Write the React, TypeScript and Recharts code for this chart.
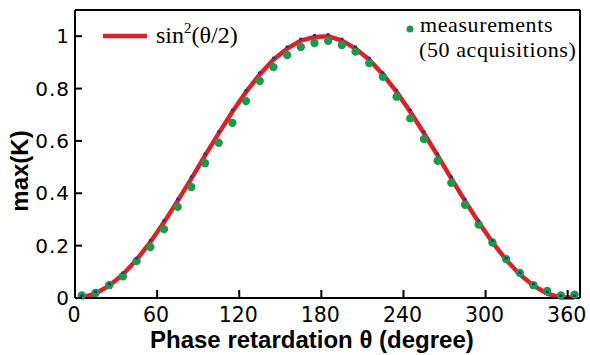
import {
  ComposedChart,
  Legend,
  Line,
  ReferenceLine,
  Scatter,
  XAxis,
  YAxis,
} from "recharts";

const THETA = [
  5, 15, 25, 35, 45, 55, 65, 75, 85, 95, 105, 115, 125, 135, 145, 155, 165, 175, 185,
  195, 205, 215, 225, 235, 245, 255, 265, 275, 285, 295, 305, 315, 325, 335, 345, 355, 365,
];
const THEORY = [
  0.002, 0.017, 0.047, 0.09, 0.146, 0.213, 0.289, 0.371, 0.456, 0.544, 0.629, 0.711, 0.787,
  0.854, 0.91, 0.953, 0.983, 0.997, 1.0, 0.983, 0.953, 0.91, 0.854, 0.787, 0.711, 0.629,
  0.544, 0.456, 0.371, 0.289, 0.213, 0.146, 0.09, 0.047, 0.017, 0.002, 0.002,
];
const MEASURED = [
  0.01, 0.019, 0.049, 0.083, 0.141, 0.195, 0.263, 0.348, 0.424, 0.515, 0.593, 0.669, 0.752,
  0.829, 0.882, 0.928, 0.959, 0.974, 0.982, 0.966, 0.941, 0.897, 0.845, 0.769, 0.686, 0.607,
  0.524, 0.44, 0.356, 0.281, 0.212, 0.149, 0.096, 0.049, 0.027, 0.01, 0.013,
];
const X_TICKS = [0, 60, 120, 180, 240, 300, 360];
const Y_TICKS = [0, 0.2, 0.4, 0.6, 0.8, 1];
const X_MAX = 369;
const Y_MAX = 1.1;

const X_TITLE = "Phase retardation θ (degree)";
const Y_TITLE = "max(K)";
const MEAS_LABEL = ["measurements", "(50 acquisitions)"];

const RED = "#d9232a";
const GREEN = "#1b9a4b";
const NAVY = "#2e3192";

const data = THETA.map((t, i) => ({ theta: t, theory: THEORY[i], measured: MEASURED[i] }));

function XTick({ x, y, payload }: any) {
  return (
    <g>
      <line x1={x} x2={x} y1={y} y2={y - 8} stroke="#000" strokeWidth={2} />
      <text x={x - 1} y={y + 23.5} textAnchor="middle" fontFamily="DejaVu Sans" fontSize={20.5} fill="#000">
        {payload.value}
      </text>
    </g>
  );
}

function YTick({ x, y, payload }: any) {
  return (
    <g>
      <line x1={x} x2={x + 7} y1={y} y2={y} stroke="#000" strokeWidth={2} />
      <text x={x - 5} y={y + 7} textAnchor="end" fontFamily="DejaVu Sans" fontSize={20} letterSpacing={1} fill="#000">
        {payload.value}
      </text>
    </g>
  );
}

function LegendBox() {
  return (
    <svg width={590} height={70} style={{ display: "block" }}>
      <line x1={103} x2={147} y1={36} y2={36} stroke={RED} strokeWidth={4.5} />
      <text x={156} y={43} fontFamily="Liberation Serif" fontSize={24} fill="#000">
        sin<tspan fontSize={15} dy={-10}>2</tspan>
        <tspan dy={10}>(θ/2)</tspan>
      </text>
      <circle cx={410} cy={29} r={3.5} fill={GREEN} />
      <text x={420} y={32} fontFamily="Liberation Serif" fontSize={22} letterSpacing={0.6} fill="#000">
        {MEAS_LABEL[0]}
      </text>
      <text x={419} y={56.5} fontFamily="Liberation Serif" fontSize={22} letterSpacing={0.6} fill="#000">
        {MEAS_LABEL[1]}
      </text>
    </svg>
  );
}

export default function App() {
  return (
    <div style={{ position: "absolute", left: 0, top: 0 }}>
      <ComposedChart width={590} height={355} data={data} margin={{ top: 10, right: 10, bottom: 0, left: 0 }}>
        <XAxis
          dataKey="theta"
          type="number"
          domain={[0, X_MAX]}
          ticks={X_TICKS}
          interval={0}
          height={57}
          tickSize={0}
          tickMargin={0}
          tickLine={false}
          axisLine={{ stroke: "#000", strokeWidth: 2 }}
          tick={<XTick />}
          label={{
            content: () => (
              <text x={150} y={348} fontFamily="Liberation Sans" fontWeight="bold" fontSize={24} fill="#000">
                {X_TITLE}
              </text>
            ),
          }}
        />
        <YAxis
          type="number"
          domain={[0, Y_MAX]}
          ticks={Y_TICKS}
          interval={0}
          width={75}
          tickSize={0}
          tickMargin={0}
          tickLine={false}
          axisLine={{ stroke: "#000", strokeWidth: 2 }}
          tick={<YTick />}
          label={{
            content: () => (
              <text
                x={28}
                y={171}
                transform="rotate(-90, 28, 171)"
                textAnchor="middle"
                fontFamily="Liberation Sans"
                fontWeight="bold"
                fontSize={24}
                fill="#000"
              >
                {Y_TITLE}
              </text>
            ),
          }}
        />
        <ReferenceLine y={Y_MAX} stroke="#000" strokeWidth={2} ifOverflow="visible" />
        <ReferenceLine x={X_MAX} stroke="#000" strokeWidth={2} ifOverflow="visible" />
        <Line
          dataKey="theory"
          type="linear"
          stroke={RED}
          strokeWidth={4.5}
          isAnimationActive={false}
          dot={(p: any) => (
            <rect key={p.index} x={p.cx - 1.5} y={p.cy - 3} width={3} height={2.5} fill={NAVY} />
          )}
          activeDot={false}
        />
        <Scatter
          dataKey="measured"
          isAnimationActive={false}
          shape={(p: any) => <circle cx={p.cx} cy={p.cy} r={4.2} fill={GREEN} />}
        />
        <Legend
          layout="horizontal"
          verticalAlign="middle"
          align="center"
          wrapperStyle={{ position: "absolute", left: 0, top: 0, width: 590, height: 70 }}
          content={() => <LegendBox />}
        />
      </ComposedChart>
    </div>
  );
}
